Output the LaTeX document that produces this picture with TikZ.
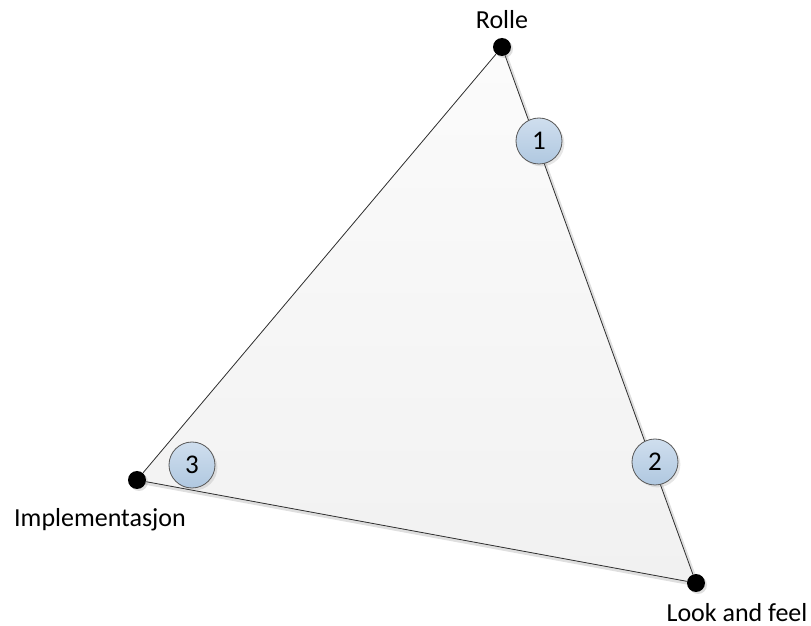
\documentclass[tikz,border=0pt]{standalone}
\usepackage{fontspec}
\setmainfont{Carlito}
\usetikzlibrary{shadows, backgrounds}

\definecolor{markertop}{HTML}{CFDEEE}
\definecolor{markerbot}{HTML}{B0C8E0}

\begin{document}
\begin{tikzpicture}[x=0.5pt, y=-0.5pt,
        vertex/.style={circle, fill=black, inner sep=0pt, minimum size=9pt,
            drop shadow={shadow xshift=1pt, shadow yshift=-1pt, opacity=0.25}},
        marker/.style={circle, draw=black!65, top color=markertop, bottom color=markerbot,
            inner sep=0pt, minimum size=23pt, font=\fontsize{13.5}{15}\selectfont,
            drop shadow={shadow xshift=1.2pt, shadow yshift=-1.2pt, opacity=0.2}},
        lbl/.style={font=\fontsize{13}{15}\selectfont}]
        \useasboundingbox (0,0) rectangle (811,626);

        \node[vertex] (rolle) at (502,47) {};
        \node[vertex] (impl) at (137,480) {};
        \node[vertex] (look) at (696,583) {};

        \begin{scope}[on background layer]
        \fill[top color=gray!3, bottom color=gray!11,
            drop shadow={shadow xshift=2pt, shadow yshift=-2pt, opacity=0.25}]
            (rolle.center) -- (impl.center) -- (look.center) -- cycle;
        \draw[black!80, line width=0.4pt] (rolle) -- (impl);
        \draw[black!80, line width=0.4pt] (impl) -- (look);
        \draw[black!80, line width=0.4pt] (look) -- (rolle);
        \end{scope}

        \node[marker] (m1) at (539,141) {1};
        \node[marker] (m2) at (655,462) {2};
        \node[marker] (m3) at (192,465) {3};

        \node[lbl] (trolle) at (502,20) {Rolle};
        \node[lbl] (timpl) at (100,520) {Implementasjon};
        \node[lbl] (tlook) at (737,613) {Look and feel};
\end{tikzpicture}
\end{document}
